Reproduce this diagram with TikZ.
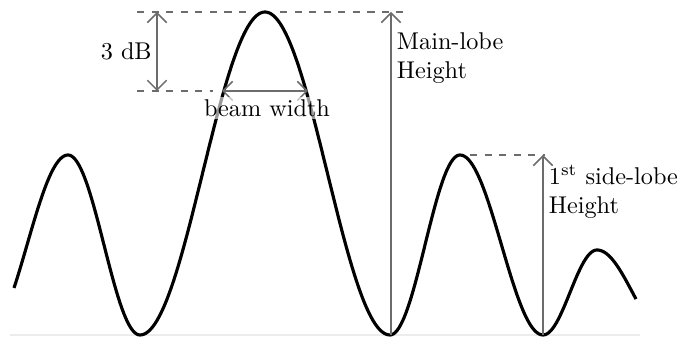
\documentclass[tikz,border=0pt]{standalone}
\usetikzlibrary{arrows.meta, positioning, calc}
\tikzset{
  lobe/.style={line width=1.3pt, line join=round},
  guide/.style={dashed, gray!85!black, line width=0.6pt},
  measure/.style={gray!85!black, line width=0.6pt},
  label/.style={inner sep=1pt, align=left},
}
\begin{document}
\begin{tikzpicture}[x=0.0145cm, y=-0.0145cm]
  \useasboundingbox (0,0) rectangle (682,337);

  % Reference points
  \coordinate (mainzero) at (391,335);
  \coordinate (mainref) at (391,12);
  \coordinate (sidezero) at (543,335);
  \coordinate (sideref) at (543,155);
  \coordinate (dbtop) at (157,12);
  \coordinate (dbbot) at (157,91);
  \coordinate (bwleft) at (222,91);
  \coordinate (bwright) at (308,91);

  % Baseline
  \draw[gray!15, line width=0.5pt] (10,335) -- (640,335);

  % Beam pattern (half a cosine per lobe flank)
  \draw[lobe] plot[domain=14:68, samples=30] (\x, {335-90*(1-cos(180*((\x+14)/82)))})
    -- plot[domain=68:140, samples=40] (\x, {335-90*(1+cos(180*((\x-68)/72)))})
    -- plot[domain=140:265, samples=60] (\x, {335-161.5*(1-cos(180*((\x-140)/125)))})
    -- plot[domain=265:390, samples=60] (\x, {335-161.5*(1+cos(180*((\x-265)/125)))})
    -- plot[domain=390:460, samples=40] (\x, {335-90*(1-cos(180*((\x-390)/70)))})
    -- plot[domain=460:543, samples=40] (\x, {335-90*(1+cos(180*((\x-460)/83)))})
    -- plot[domain=543:597, samples=30] (\x, {335-42.5*(1-cos(180*((\x-543)/54)))})
    -- plot[domain=597:636, samples=25] (\x, {335-42.5*(1+cos(180*((\x-597)/71)))});

  % Dashed guide lines
  \draw[guide] (137,12) -- (248,12);
  \draw[guide] (280,12) -- (403,12);
  \draw[guide] (137,91) -- (213,91);
  \draw[guide] (470,155) -- (545,155);

  % 3 dB and beam width
  \draw[measure, {Straight Barb[length=4pt]}-{Straight Barb[length=4pt]}] (dbtop) -- (dbbot);
  \node[label, left=1pt of $(dbtop)!0.5!(dbbot)$] (db) {3 dB};
  \draw[measure, {Straight Barb[length=4pt]}-{Straight Barb[length=4pt]}] (bwleft) -- (bwright);
  \node[label, fill=white, fill opacity=0.6, text opacity=1] (bw) at (267,108) {beam width};

  % Main-lobe height
  \draw[measure, -{Straight Barb[length=4pt]}] (mainzero) -- (mainref);
  \node[label, anchor=west] (mainlbl) at (394,58) {Main-lobe\\Height};

  % Side-lobe height
  \draw[measure, -{Straight Barb[length=4pt]}] (sidezero) -- (sideref);
  \node[label, anchor=west] (sidelbl) at (546,192) {1\textsuperscript{st} side-lobe\\Height};
\end{tikzpicture}
\end{document}
